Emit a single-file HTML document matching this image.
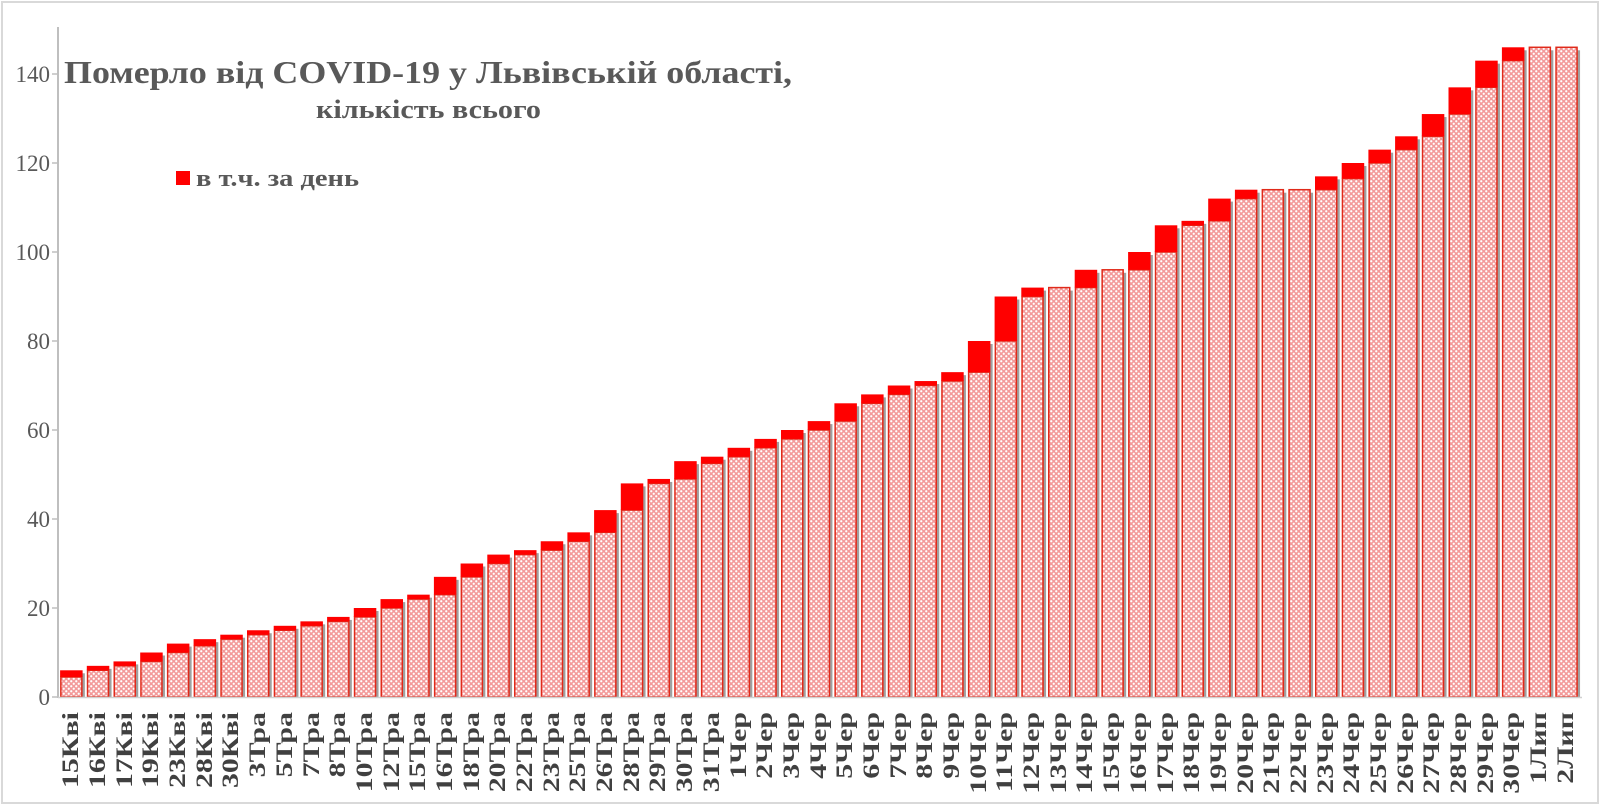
<!DOCTYPE html>
<html><head><meta charset="utf-8"><style>
html,body{margin:0;padding:0;background:#fff;}
#wrap{position:relative;width:1600px;height:805px;overflow:hidden;background:#fff;}
#frame{position:absolute;left:1px;top:1px;width:1594px;height:799px;border:2px solid #d9d9d9;}
svg{position:absolute;left:0;top:0;}
#labels{position:absolute;left:58px;top:712px;display:flex;}
#labels div{width:26.7px;display:flex;justify-content:center;align-items:flex-start;transform:scaleY(1.3);transform-origin:top center;}
#labels span{writing-mode:vertical-rl;transform:rotate(180deg);font:bold 23px "Liberation Serif",serif;color:#404040;line-height:26px;white-space:nowrap;}
</style></head><body><div id="wrap"><div id="frame"></div>
<svg width="1600" height="805" xmlns="http://www.w3.org/2000/svg">
<defs><pattern id="p" width="5" height="5" patternUnits="userSpaceOnUse">
<rect width="5" height="5" fill="#f39a9a"/><circle cx="1.25" cy="1.25" r="1.1" fill="#fff"/><circle cx="3.75" cy="3.75" r="1.1" fill="#fff"/></pattern></defs>
<g id="bars"></g>
<line x1="58" y1="27" x2="58" y2="698" stroke="#bfbfbf" stroke-width="2"/>
<line x1="58" y1="697.5" x2="1582" y2="697.5" stroke="#d0d0d0" stroke-width="1.5"/>
<g stroke="#bfbfbf" stroke-width="1.5"><line x1="52" y1="697" x2="58" y2="697"/><line x1="52" y1="608" x2="58" y2="608"/><line x1="52" y1="519" x2="58" y2="519"/><line x1="52" y1="430" x2="58" y2="430"/><line x1="52" y1="341" x2="58" y2="341"/><line x1="52" y1="252" x2="58" y2="252"/><line x1="52" y1="163" x2="58" y2="163"/><line x1="52" y1="74" x2="58" y2="74"/></g>
<g font-family="Liberation Serif,serif" font-size="23" fill="#595959" text-anchor="end">
<text x="50" y="705">0</text><text x="50" y="616">20</text><text x="50" y="527">40</text><text x="50" y="438">60</text><text x="50" y="349">80</text><text x="50" y="260">100</text><text x="50" y="171">120</text><text x="50" y="82">140</text></g>
<text x="64" y="83" font-family="Liberation Serif,serif" font-weight="bold" font-size="32" fill="#595959" textLength="728" lengthAdjust="spacingAndGlyphs">Померло від COVID-19 у Львівській області,</text>
<text x="316" y="118" font-family="Liberation Serif,serif" font-weight="bold" font-size="26" fill="#595959" textLength="225" lengthAdjust="spacingAndGlyphs">кількість всього</text>
<rect x="176" y="171" width="14" height="14" fill="#ff0000"/>
<text x="196" y="186" font-family="Liberation Serif,serif" font-weight="bold" font-size="24" fill="#595959" textLength="163" lengthAdjust="spacingAndGlyphs">в т.ч. за день</text>
</svg>
<div id="labels">
<div><span>15Кві</span></div><div><span>16Кві</span></div><div><span>17Кві</span></div><div><span>19Кві</span></div><div><span>23Кві</span></div><div><span>28Кві</span></div><div><span>30Кві</span></div><div><span>3Тра</span></div><div><span>5Тра</span></div><div><span>7Тра</span></div><div><span>8Тра</span></div><div><span>10Тра</span></div><div><span>12Тра</span></div><div><span>15Тра</span></div><div><span>16Тра</span></div><div><span>18Тра</span></div><div><span>20Тра</span></div><div><span>22Тра</span></div><div><span>23Тра</span></div><div><span>25Тра</span></div><div><span>26Тра</span></div><div><span>28Тра</span></div><div><span>29Тра</span></div><div><span>30Тра</span></div><div><span>31Тра</span></div><div><span>1Чер</span></div><div><span>2Чер</span></div><div><span>3Чер</span></div><div><span>4Чер</span></div><div><span>5Чер</span></div><div><span>6Чер</span></div><div><span>7Чер</span></div><div><span>8Чер</span></div><div><span>9Чер</span></div><div><span>10Чер</span></div><div><span>11Чер</span></div><div><span>12Чер</span></div><div><span>13Чер</span></div><div><span>14Чер</span></div><div><span>15Чер</span></div><div><span>16Чер</span></div><div><span>17Чер</span></div><div><span>18Чер</span></div><div><span>19Чер</span></div><div><span>20Чер</span></div><div><span>21Чер</span></div><div><span>22Чер</span></div><div><span>23Чер</span></div><div><span>24Чер</span></div><div><span>25Чер</span></div><div><span>26Чер</span></div><div><span>27Чер</span></div><div><span>28Чер</span></div><div><span>29Чер</span></div><div><span>30Чер</span></div><div><span>1Лип</span></div><div><span>2Лип</span></div>
</div>
</div>
<script>
var T=[6,7,8,10,12,13,14,15,16,17,18,20,22,23,27,30,32,33,35,37,42,48,49,53,54,56,58,60,62,66,68,70,71,73,80,90,92,92,96,96,100,106,107,112,114,114,114,117,120,123,126,131,137,143,146,146,146];
var B=[4.5,6,7,8,10,11.5,13,14,15,16,17,18,20,22,23,27,30,32,33,35,37,42,48,49,52.5,54,56,58,60,62,66,68,70,71,73,80,90,92,92,96,96,100,106,107,112,114,114,114,116.5,120,123,126,131,137,143,146,146];
var g=document.getElementById('bars'),s='';
function Y(v){return 697-4.45*v;}
for(var i=0;i<T.length;i++){var w=21,x=58+26.7*i+(26.7-w)/2,yt=Y(T[i]),yb=Y(B[i]);
s+='<rect x="'+(x+3)+'" y="'+(yt+3)+'" width="'+w+'" height="'+(697-yt-3)+'" fill="#a0a0a0"/>';
s+='<rect x="'+x+'" y="'+yb+'" width="'+w+'" height="'+(697-yb)+'" fill="url(#p)" stroke="#e02a1a" stroke-width="1.5"/>';
if(T[i]>B[i])s+='<rect x="'+(x-0.75)+'" y="'+yt+'" width="'+(w+1.5)+'" height="'+(yb-yt)+'" fill="#ff0000"/>';}
g.innerHTML=s;
</script>
</body></html>
